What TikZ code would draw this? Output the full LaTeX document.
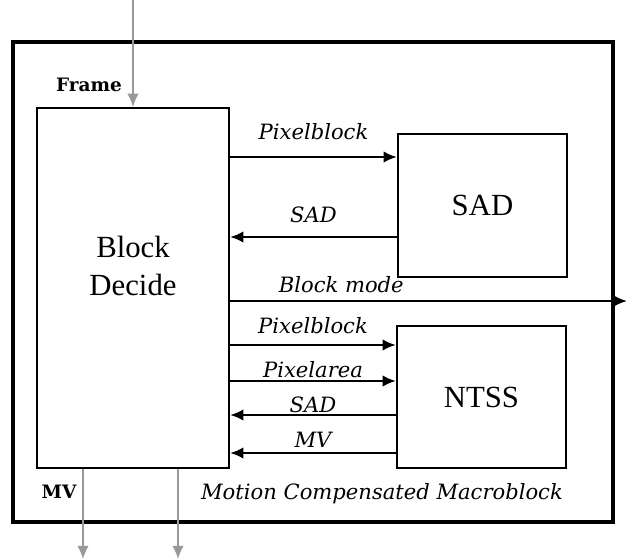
\documentclass[tikz,border=0pt]{standalone}
\usepackage{fontspec}
\setmainfont{Liberation Serif}
\newfontfamily\lblfont{DejaVu Serif}
\usetikzlibrary{arrows.meta}

\begin{document}
\begin{tikzpicture}[x=0.2mm,y=-0.2mm,>={Latex[length=7.5pt,width=6.5pt]}]
	\tikzstyle{blk}=[draw,line width=1.3pt,inner sep=0pt,font=\fontsize{17.5}{21.5}\selectfont]
	\tikzstyle{sig}=[->,line width=1.2pt]
	\tikzstyle{lbl}=[font=\lblfont\itshape\fontsize{12}{14}\selectfont,inner sep=1pt]
	\tikzstyle{io}=[->,gray!80,line width=0.8pt]
	\tikzstyle{iolbl}=[font=\lblfont\bfseries\fontsize{10.5}{12}\selectfont,inner sep=1pt]
	\useasboundingbox (0,0) rectangle (627,559);
	\node[blk,line width=1.8pt,minimum width=120mm,minimum height=96mm] (outer) at (313,282) {};
	\node[blk,minimum width=38.4mm,minimum height=72mm,
		label={[font=\fontsize{17.5}{21.5}\selectfont,align=center,yshift=4.4mm]center:Block\\Decide}] (decide) at (133,288) {};
	\node[blk,minimum width=33.8mm,minimum height=28.6mm] (sad) at (482.5,205.5) {SAD};
	\node[blk,minimum width=33.8mm,minimum height=28.4mm] (ntss) at (481.5,397) {NTSS};
	\coordinate (frin) at (133,0);
	\coordinate (bmout) at (627,301);
	\coordinate (mvout) at (83,559);
	\coordinate (out2) at (178,559);
	% signals to and from the search blocks
	\foreach \y/\dst/\txt/\o in {157/sad/Pixelblock/25, 345/ntss/Pixelblock/19, 381/ntss/Pixelarea/11}
		\draw[sig] (decide.east |- 0,\y) -- node[lbl,yshift=\o*0.2mm] {\txt} (\dst.west |- 0,\y);
	\foreach \y/\src/\txt/\o in {237/sad/SAD/22, 415/ntss/SAD/10, 453/ntss/MV/13}
		\draw[sig] (\src.west |- 0,\y) -- node[lbl,yshift=\o*0.2mm] {\txt} (decide.east |- 0,\y);
	\draw[sig] (decide.east |- bmout) -- node[lbl,pos=0.28,yshift=16*0.2mm] {Block mode} (bmout);
	% inputs and outputs
	\draw[io] (frin) -- (decide.north);
	\draw[io] (decide.south -| mvout) -- (mvout);
	\draw[io] (decide.south -| out2) -- (out2);
	\node[iolbl] (frame) at (89,85) {Frame};
	\node[iolbl] (mv) at (59,492) {MV};
	\node[lbl] (mcm) at (382,494) {Motion Compensated Macroblock};
\end{tikzpicture}
\end{document}
